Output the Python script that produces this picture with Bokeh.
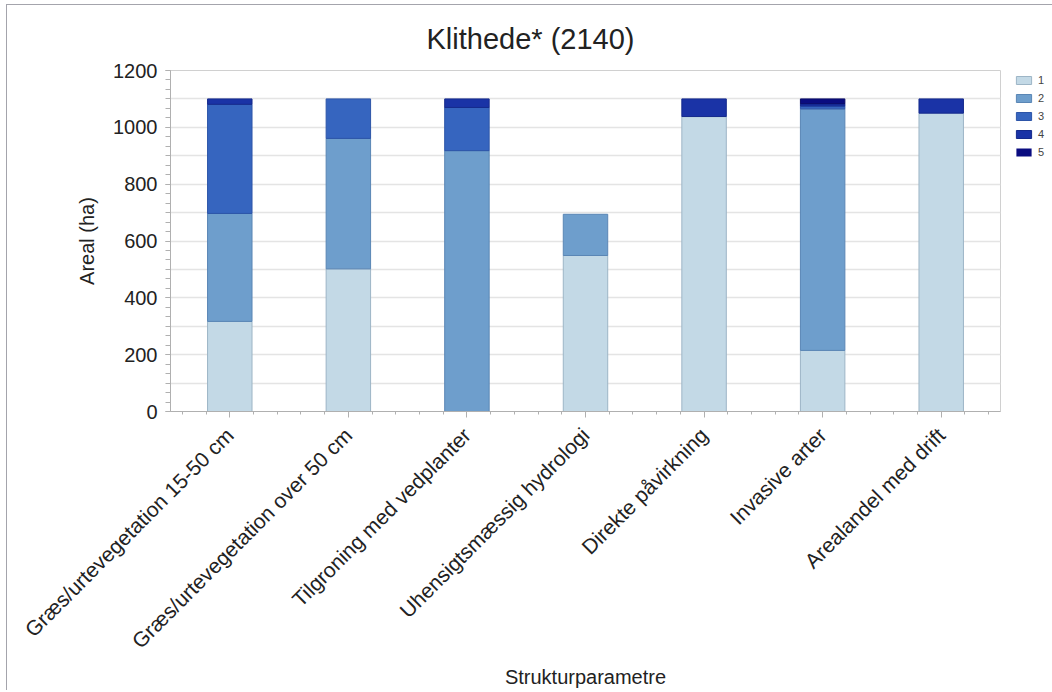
from bokeh.plotting import figure
from bokeh.models import (ColumnDataSource, Range1d, FixedTicker, Grid, Legend, Title)
from bokeh.embed import file_html
from bokeh.resources import INLINE

categories = ["Græs/urtevegetation 15-50 cm", "Græs/urtevegetation over 50 cm",
              "Tilgroning med vedplanter", "Uhensigtsmæssig hydrologi",
              "Direkte påvirkning", "Invasive arter", "Arealandel med drift"]
s1 = [317, 502, 0, 549, 1038, 215, 1050]
s2 = [380, 459, 918, 145, 0, 850, 0]
s3 = [384, 139, 152, 0, 0, 10, 0]
s4 = [19, 0, 30, 0, 62, 8, 50]
s5 = [0, 0, 0, 0, 0, 17, 0]
series_names = ["1", "2", "3", "4", "5"]
y_ticks = [0, 200, 400, 600, 800, 1000, 1200]

fills = ["#c3d9e6", "#6e9ecc", "#3665bf", "#1a33a6", "#0a0c80"]
lines = ["#9db5c6", "#5a86b5", "#2d55a8", "#152a8c", "#080a66"]

x = list(range(1, len(categories) + 1))
series = [s1, s2, s3, s4, s5]
data = dict(x=x)
for i, s in enumerate(series):
    data[f"s{i+1}"] = s
    data[f"a{i+1}"] = [1.0 if v > 0 else 0.0 for v in s]
src = ColumnDataSource(data)

FONT = "Liberation Sans"
TXT = "#222222"

p = figure(frame_width=830, frame_height=341, output_backend="svg", toolbar_location=None,
           x_range=Range1d(0.5, len(categories) + 0.5), y_range=Range1d(0, 1200),
           min_border_left=163, min_border_top=62, min_border_right=10, min_border_bottom=10)
p.styles = {"border-top": "1px solid #a4a4ac", "border-left": "1px solid #a4a4ac",
            "margin-left": "6px", "margin-top": "4px"}

p.title = Title(text="Klithede* (2140)", align="left", text_font=FONT,
                text_font_size="29px", text_font_style="normal", text_color=TXT,
                offset=256, standoff=31)

rs = p.vbar_stack([f"s{i+1}" for i in range(5)], x="x", width=0.375, source=src,
                  fill_color=fills, line_color=lines, line_width=1,
                  line_alpha=[f"a{i+1}" for i in range(5)])

legend = Legend(items=[(n, [r]) for n, r in zip(series_names, rs)],
                location=(14, 253), orientation="vertical",
                glyph_width=19, glyph_height=10, label_text_font=FONT,
                label_text_font_size="11px", label_standoff=5, spacing=5,
                padding=3, margin=7, border_line_color=None,
                label_height=13, label_width=6, background_fill_alpha=0)
p.add_layout(legend, "right")

# Y axis
p.yaxis.ticker = FixedTicker(ticks=y_ticks,
                             minor_ticks=[i * 100 / 3 for i in range(0, 37)])
p.yaxis.axis_label = "Areal (ha)"
p.yaxis.axis_label_text_font = FONT
p.yaxis.axis_label_text_font_size = "20px"
p.yaxis.axis_label_text_font_style = "normal"
p.yaxis.axis_label_text_color = TXT
p.yaxis.axis_label_standoff = 12
p.yaxis.major_label_text_font = FONT
p.yaxis.major_label_text_font_size = "20px"
p.yaxis.major_label_text_color = TXT
p.yaxis.major_label_standoff = 8
p.yaxis.axis_line_color = "#b0b0b0"
p.yaxis.major_tick_line_color = "#b0b0b0"
p.yaxis.minor_tick_line_color = "#b0b0b0"
p.yaxis.major_tick_in = 0
p.yaxis.major_tick_out = 5
p.yaxis.minor_tick_in = 0
p.yaxis.minor_tick_out = 5

# X axis
p.xaxis.ticker = FixedTicker(ticks=x,
                             minor_ticks=[c + d for c in x for d in (-0.4, -0.2, 0.2, 0.4)])
p.xaxis.major_label_overrides = {i: c for i, c in zip(x, categories)}
p.xaxis.major_label_orientation = 0.785398
p.xaxis.axis_label = "Strukturparametre"
p.xaxis.axis_label_text_font = FONT
p.xaxis.axis_label_text_font_size = "20px"
p.xaxis.axis_label_text_font_style = "normal"
p.xaxis.axis_label_text_color = TXT
p.xaxis.axis_label_standoff = 2
p.xaxis.major_label_text_font = FONT
p.xaxis.major_label_text_font_size = "21px"
p.xaxis.major_label_text_color = TXT
p.xaxis.major_label_standoff = 14
p.xaxis.axis_line_color = "#b0b0b0"
p.xaxis.major_tick_line_color = "#b0b0b0"
p.xaxis.minor_tick_line_color = "#b0b0b0"
p.xaxis.major_tick_in = 0
p.xaxis.major_tick_out = 6
p.xaxis.minor_tick_in = 0
p.xaxis.minor_tick_out = 3

# Grid
p.xgrid.visible = False
p.ygrid.visible = False
g = Grid(dimension=1, ticker=FixedTicker(ticks=list(range(0, 1201, 100))),
         grid_line_color="#e4e4e4", grid_line_width=1.5)
p.add_layout(g)

p.outline_line_color = "#d0d0d0"
p.background_fill_color = "white"
p.border_fill_color = "white"

open("out.html", "w").write(file_html(p, INLINE))
